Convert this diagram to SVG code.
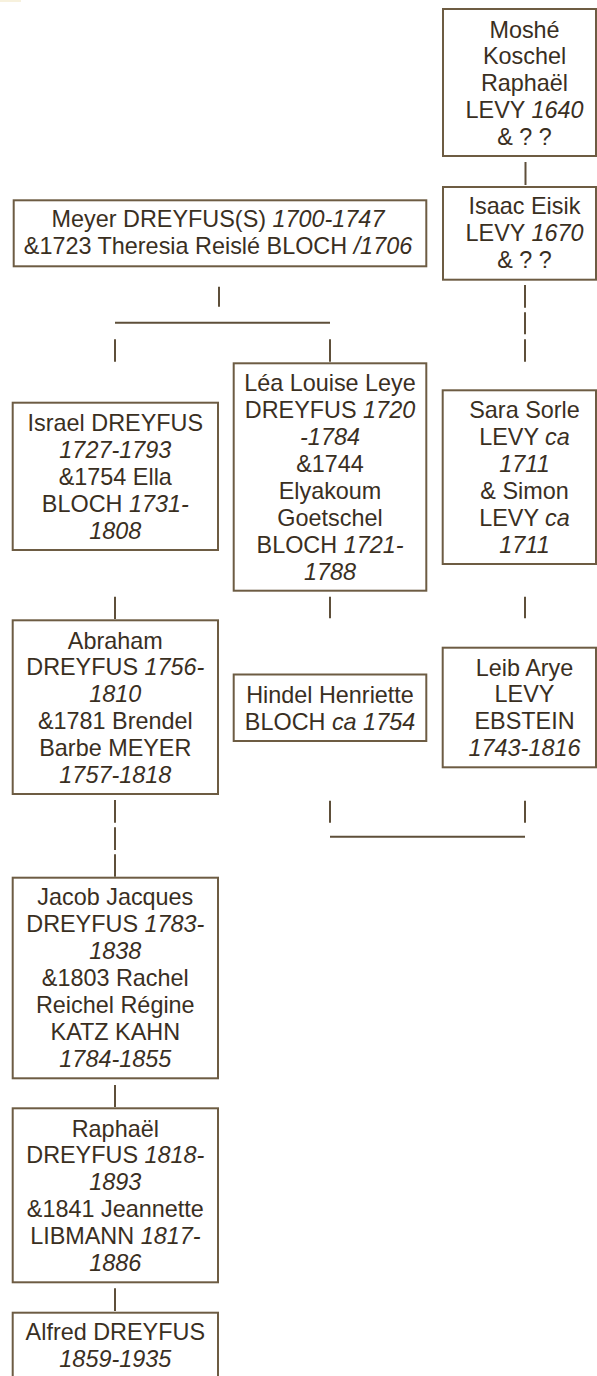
<svg xmlns="http://www.w3.org/2000/svg" width="597" height="1376" viewBox="0 0 597 1376">
<style>
.b{fill:#fff;stroke:#6d5c43;stroke-width:2}
text{font-family:"Liberation Sans",Arial,sans-serif;font-size:23.4px;fill:#3a2f1f;text-anchor:middle}
.i{font-style:italic}
.c line{stroke:#5e4f3a;stroke-width:2}
</style>
<rect x="0" y="0" width="597" height="1376" fill="#fff"/>
<rect x="0" y="0" width="21" height="2" fill="#f7f1dd"/>
<g class="c" id="connectors">
<line x1="525.5" y1="162" x2="525.5" y2="185"/>
<line x1="525" y1="285" x2="525" y2="307.7"/>
<line x1="525" y1="312.3" x2="525" y2="334.3"/>
<line x1="525" y1="339.3" x2="525" y2="361.7"/>
<line x1="219" y1="286.7" x2="219" y2="306.7"/>
<line x1="115" y1="322.7" x2="330" y2="322.7"/>
<line x1="115" y1="339.3" x2="115" y2="361.7"/>
<line x1="330" y1="339.3" x2="330" y2="361.7"/>
<line x1="115" y1="596.7" x2="115" y2="619"/>
<line x1="330" y1="596.7" x2="330" y2="618.3"/>
<line x1="525" y1="596.7" x2="525" y2="618.3"/>
<line x1="115" y1="800" x2="115" y2="822.7"/>
<line x1="115" y1="827.3" x2="115" y2="850"/>
<line x1="115" y1="854.3" x2="115" y2="876.7"/>
<line x1="330" y1="800.7" x2="330" y2="822.7"/>
<line x1="525" y1="800.7" x2="525" y2="822.7"/>
<line x1="330" y1="836.7" x2="525" y2="836.7"/>
<line x1="115" y1="1085" x2="115" y2="1107"/>
<line x1="115" y1="1288.3" x2="115" y2="1311"/>
</g>
<g id="moshe">
<rect class="b" x="443" y="9" width="153" height="147"/>
<text x="524.5" y="37.5">Moshé</text>
<text x="524.5" y="64.4">Koschel</text>
<text x="524.5" y="91.3">Raphaël</text>
<text x="524.5" y="118.2">LEVY <tspan class="i">1640</tspan></text>
<text x="524.5" y="145.1">&amp; ? ?</text>
</g>
<g id="isaac">
<rect class="b" x="443" y="187" width="153" height="92.7"/>
<text x="524.5" y="214">Isaac Eisik</text>
<text x="524.5" y="240.9">LEVY <tspan class="i">1670</tspan></text>
<text x="524.5" y="267.8">&amp; ? ?</text>
</g>
<g id="meyer">
<rect class="b" x="13.7" y="200.3" width="412.6" height="66"/>
<text x="218" y="227.3">Meyer DREYFUS(S) <tspan class="i">1700-1747</tspan></text>
<text x="218" y="254.2">&amp;1723 Theresia Reislé BLOCH <tspan class="i">/1706</tspan></text>
</g>
<g id="israel">
<rect class="b" x="12.7" y="402.7" width="205.3" height="147.3"/>
<text x="115.3" y="431.2">Israel DREYFUS</text>
<text x="115.3" y="458.1" class="i">1727-1793</text>
<text x="115.3" y="485">&amp;1754 Ella</text>
<text x="115.3" y="511.9">BLOCH <tspan class="i">1731-</tspan></text>
<text x="115.3" y="538.8" class="i">1808</text>
</g>
<g id="lea">
<rect class="b" x="233.7" y="363.3" width="192.6" height="227.4"/>
<text x="330" y="391.3">Léa Louise Leye</text>
<text x="330" y="418.2">DREYFUS <tspan class="i">1720</tspan></text>
<text x="330" y="445.1" class="i">-1784</text>
<text x="330" y="472">&amp;1744</text>
<text x="330" y="498.9">Elyakoum</text>
<text x="330" y="525.8">Goetschel</text>
<text x="330" y="552.7">BLOCH <tspan class="i">1721-</tspan></text>
<text x="330" y="579.6" class="i">1788</text>
</g>
<g id="sara">
<rect class="b" x="442.7" y="390.3" width="153.3" height="173.7"/>
<text x="524.5" y="418.3">Sara Sorle</text>
<text x="524.5" y="445.2">LEVY <tspan class="i">ca</tspan></text>
<text x="524.5" y="472.1" class="i">1711</text>
<text x="524.5" y="499">&amp; Simon</text>
<text x="524.5" y="525.9">LEVY <tspan class="i">ca</tspan></text>
<text x="524.5" y="552.8" class="i">1711</text>
</g>
<g id="abraham">
<rect class="b" x="12.7" y="620.3" width="205.3" height="173.7"/>
<text x="115.3" y="648.5">Abraham</text>
<text x="115.3" y="675.4">DREYFUS <tspan class="i">1756-</tspan></text>
<text x="115.3" y="702.3" class="i">1810</text>
<text x="115.3" y="729.2">&amp;1781 Brendel</text>
<text x="115.3" y="756.1">Barbe MEYER</text>
<text x="115.3" y="783" class="i">1757-1818</text>
</g>
<g id="hindel">
<rect class="b" x="233.7" y="674.5" width="192.6" height="66.5"/>
<text x="330" y="702.6">Hindel Henriette</text>
<text x="330" y="729.5">BLOCH <tspan class="i">ca 1754</tspan></text>
</g>
<g id="leib">
<rect class="b" x="442.7" y="647.7" width="153.3" height="119.6"/>
<text x="524.5" y="675.5">Leib Arye</text>
<text x="524.5" y="702.4">LEVY</text>
<text x="524.5" y="729.3">EBSTEIN</text>
<text x="524.5" y="756.2" class="i">1743-1816</text>
</g>
<g id="jacob">
<rect class="b" x="12.7" y="877.7" width="205.3" height="200.6"/>
<text x="115.3" y="905.3">Jacob Jacques</text>
<text x="115.3" y="932.2">DREYFUS <tspan class="i">1783-</tspan></text>
<text x="115.3" y="959.1" class="i">1838</text>
<text x="115.3" y="986">&amp;1803 Rachel</text>
<text x="115.3" y="1012.9">Reichel Régine</text>
<text x="115.3" y="1039.8">KATZ KAHN</text>
<text x="115.3" y="1066.7" class="i">1784-1855</text>
</g>
<g id="raphael">
<rect class="b" x="12.7" y="1108.3" width="205.3" height="174"/>
<text x="115.3" y="1136.5">Raphaël</text>
<text x="115.3" y="1163.4">DREYFUS <tspan class="i">1818-</tspan></text>
<text x="115.3" y="1190.3" class="i">1893</text>
<text x="115.3" y="1217.2">&amp;1841 Jeannette</text>
<text x="115.3" y="1244.1">LIBMANN <tspan class="i">1817-</tspan></text>
<text x="115.3" y="1271" class="i">1886</text>
</g>
<g id="alfred">
<rect class="b" x="12.7" y="1312.7" width="205.3" height="66"/>
<text x="115.3" y="1340">Alfred DREYFUS</text>
<text x="115.3" y="1366.9" class="i">1859-1935</text>
</g>
</svg>
